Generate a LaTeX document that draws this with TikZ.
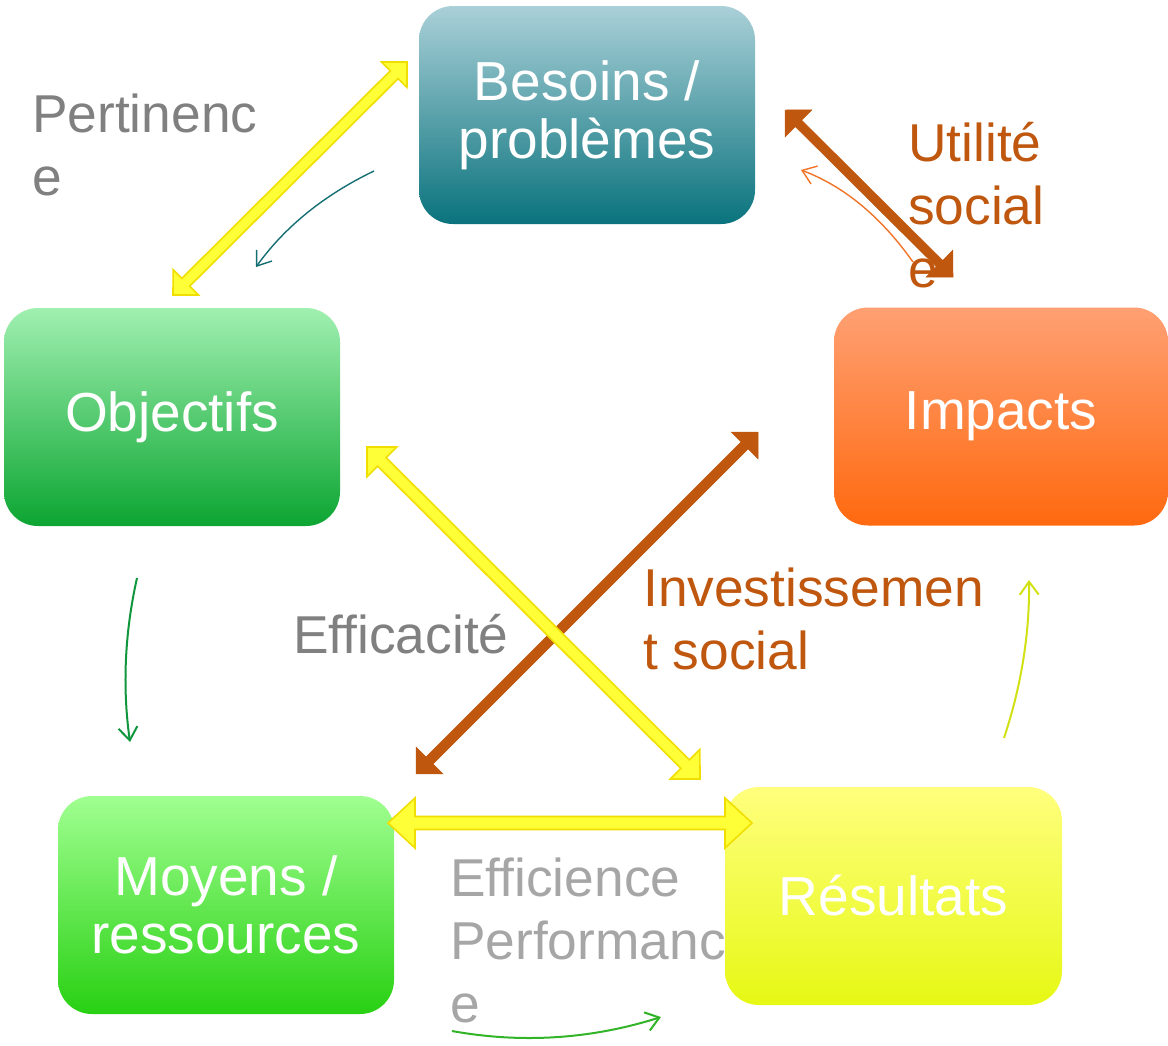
\documentclass[tikz,border=0pt]{standalone}
\usepackage{fontspec}
\setmainfont{Liberation Sans}
\usetikzlibrary{calc,arrows.meta}
\definecolor{brownA}{RGB}{191,87,14}
\definecolor{yelF}{RGB}{255,255,56}
\definecolor{yelD}{RGB}{240,222,0}
\definecolor{grayA}{RGB}{128,128,128}
\definecolor{grayB}{RGB}{166,166,166}
\definecolor{besT}{RGB}{170,208,216}
\definecolor{besB}{RGB}{10,115,125}
\definecolor{objT}{RGB}{160,240,176}
\definecolor{objB}{RGB}{12,165,50}
\definecolor{impT}{RGB}{255,160,115}
\definecolor{impB}{RGB}{255,105,15}
\definecolor{moyT}{RGB}{160,255,145}
\definecolor{moyB}{RGB}{40,208,18}
\definecolor{resT}{RGB}{255,255,125}
\definecolor{resB}{RGB}{230,248,20}
\definecolor{tealA}{RGB}{20,110,115}
\definecolor{orgA}{RGB}{240,115,40}
\definecolor{grnA}{RGB}{16,150,60}
\definecolor{ygA}{RGB}{210,225,20}
\definecolor{grnB}{RGB}{50,180,40}
% #1 style, #2 from, #3 to, #4 shaft half width, #5 head half width, #6 head length
\newcommand{\blockarrow}[6]{%
  \draw[#1] let \p1=($(#3)-(#2)$), \n1={veclen(\x1,\y1)}, \n2={atan2(\y1,\x1)} in
    ([shift={(#2)},rotate=\n2]0,0)
    -- ([shift={(#2)},rotate=\n2]#6,#5)
    -- ([shift={(#2)},rotate=\n2]#6,#4)
    -- ([shift={(#2)},rotate=\n2]{\n1-#6},#4)
    -- ([shift={(#2)},rotate=\n2]{\n1-#6},#5)
    -- ([shift={(#2)},rotate=\n2]\n1,0)
    -- ([shift={(#2)},rotate=\n2]{\n1-#6},-#5)
    -- ([shift={(#2)},rotate=\n2]{\n1-#6},-#4)
    -- ([shift={(#2)},rotate=\n2]#6,-#4)
    -- ([shift={(#2)},rotate=\n2]#6,-#5)
    -- cycle;}
\begin{document}
\begin{tikzpicture}[x=1pt,y=-1pt,
  box/.style={rounded corners=34pt, minimum width=#1, minimum height=218pt,
    inner sep=0pt, align=center, text=white,
    font=\fontsize{55}{58}\selectfont},
  lbl/.style={inner sep=0pt, align=left, font=\fontsize{53.3}{63}\selectfont},
  yarrow/.style={fill=yelF, draw=yelD, line width=1.6pt, line join=miter},
  barrow/.style={fill=brownA, draw=brownA, line width=0.5pt},
  thin/.style={line width=#1, -{Straight Barb[length=13pt,width=19pt]}},
]
\useasboundingbox (0,0) rectangle (1168,1045);
% boxes
\node[box=336pt, top color=besT, bottom color=besB] (bes) at (587,115) {Besoins /\\probl\`emes};
\node[box=336pt, top color=objT, bottom color=objB] (obj) at (172,417) {Objectifs};
\node[box=334pt, top color=impT, bottom color=impB] (imp) at (1001,416.5) {Impacts};
\node[box=336pt, top color=moyT, bottom color=moyB] (moy) at (226,905) {Moyens /\\ressources};
\node[box=337pt, top color=resT, bottom color=resB] (res) at (893.5,896) {R\'esultats};
% arrow end points
\coordinate (pA) at (407,62);   \coordinate (pB) at (173,295);
\coordinate (uA) at (785,110);  \coordinate (uB) at (953,277);
\coordinate (iA) at (758,432);  \coordinate (iB) at (416,774);
\coordinate (eA) at (367,447);  \coordinate (eB) at (700,779);
\coordinate (fA) at (388,823);  \coordinate (fB) at (752,823);
% block arrows
\blockarrow{yarrow}{pA}{pB}{5.5}{18}{18}
\blockarrow{barrow}{uA}{uB}{4.5}{19}{19}
\blockarrow{barrow}{iA}{iB}{5}{19}{19}
\blockarrow{yarrow}{eA}{eB}{6}{21}{21}
\blockarrow{yarrow}{fA}{fB}{6.5}{25}{27}
% thin curved arrows
\coordinate (tA) at (374,171);  \coordinate (tB) at (256,267);
\coordinate (oA) at (913,262);  \coordinate (oB) at (801,170);
\coordinate (gA) at (137,578);  \coordinate (gB) at (130,742);
\coordinate (yA) at (1004,738); \coordinate (yB) at (1029,580);
\coordinate (hA) at (452,1031); \coordinate (hB) at (661,1017);
\draw[thin=1.4pt, tealA] (tA) .. controls (324,195) and (284.7,227) .. (tB);
\draw[thin=1.4pt, orgA] (oA) .. controls (881,216.7) and (843.7,186) .. (oB);
\draw[thin=2pt, grnA] (gA) .. controls (124.7,632.7) and (122.3,687.3) .. (gB);
\draw[thin=2pt, ygA] (yA) .. controls (1021.3,686) and (1029.7,633.3) .. (yB);
\draw[thin=2pt, grnB] (hA) .. controls (522,1043.7) and (591.7,1039) .. (hB);
% labels (base anchor = baseline of last line)
\node[lbl, text=grayA, anchor=base west] (pert) at (32,195) {Pertinenc\\e};
\node[lbl, text=brownA, anchor=base west] (util) at (908,287) {Utilit\'e\\social\\e};
\node[lbl, text=brownA, anchor=base west] (inv) at (643,669) {Investissemen\\t social};
\node[lbl, text=grayA, anchor=base west] (effic) at (293,653) {Efficacit\'e};
\node[lbl, text=grayB, anchor=base west] (effie) at (450,1022) {Efficience\\Performanc\\e};
\end{tikzpicture}
\end{document}
